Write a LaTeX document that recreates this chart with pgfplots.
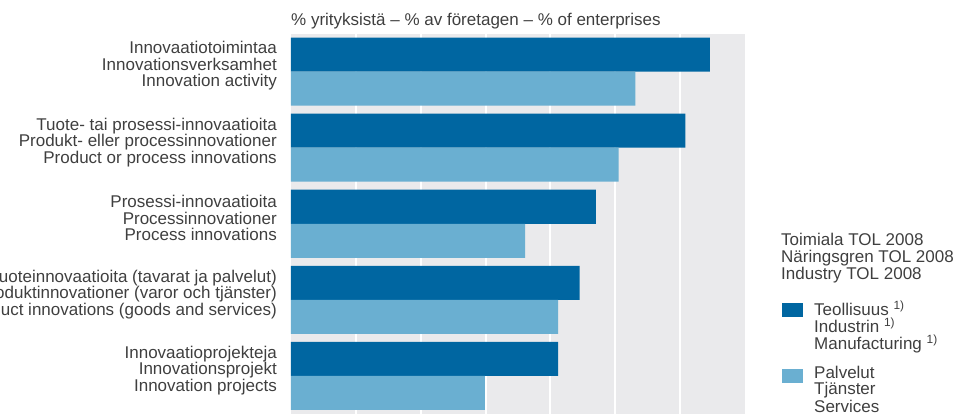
\documentclass[border=0pt]{standalone}
\usepackage{fontspec}
\setmainfont{Liberation Sans}
\usepackage{pgfplots}
\pgfplotsset{compat=1.18}
\definecolor{manuf}{HTML}{0066A1}
\definecolor{serv}{HTML}{6AAFD1}
\definecolor{bg}{HTML}{EAEAEC}
\definecolor{txt}{HTML}{3F3F3F}
\newcommand{\lf}{\fontsize{17}{16.5}\selectfont}
\begin{document}
\begin{tikzpicture}
\begin{axis}[
  scale only axis, width=454pt, height=380.5pt,
  xmin=0, xmax=70, ymin=-0.5, ymax=4.5, y dir=reverse,
  axis background/.style={fill=bg},
  axis line style={draw=none},
  xtick={10,20,...,60}, xticklabels={},
  xmajorgrids, grid style={white, line width=2pt},
  major tick length=0pt,
  ytick={0,1,2,3,4},
  yticklabels={
    {Innovaatiotoimintaa\\Innovationsverksamhet\\Innovation activity},
    {Tuote- tai prosessi-innovaatioita\\Produkt- eller processinnovationer\\Product or process innovations},
    {Prosessi-innovaatioita\\Processinnovationer\\Process innovations},
    {Tuoteinnovaatioita (tavarat ja palvelut)\\Produktinnovationer (varor och tjänster)\\Product innovations (goods and services)},
    {Innovaatioprojekteja\\Innovationsprojekt\\Innovation projects}},
  yticklabel style={align=right, font=\lf, text=txt, inner sep=0pt, xshift=-14pt, yshift=5.5pt},
  xbar, bar width=0.447, bar shift=0pt,
]
\addplot[fill=manuf, draw=none] coordinates {(64.6,-0.2235) (60.8,0.7765) (47.0,1.7765) (44.5,2.7765) (41.2,3.7765)};
\addplot[fill=serv, draw=none] coordinates {(53.1,0.2235) (50.5,1.2235) (36.1,2.2235) (41.2,3.2235) (29.9,4.2235)};
\end{axis}
\begin{scope}[every node/.style={anchor=base west, inner sep=0pt, font=\lf, text=txt}]
\node at (0pt,388pt) {\% yrityksistä – \% av företagen – \% of enterprises};
\node at (490pt,168pt) {Toimiala TOL 2008};
\node at (490pt,151.3pt) {Näringsgren TOL 2008};
\node at (490pt,134.7pt) {Industry TOL 2008};
\fill[manuf] (491pt,97pt) rectangle (512pt,111pt);
\node at (523pt,98pt) {Teollisuus \textsuperscript{1)}};
\node at (523pt,81.3pt) {Industrin \textsuperscript{1)}};
\node at (523pt,64.7pt) {Manufacturing \textsuperscript{1)}};
\fill[serv] (491pt,31pt) rectangle (512pt,45pt);
\node at (523pt,35.7pt) {Palvelut};
\node at (523pt,19pt) {Tjänster};
\node at (523pt,1.3pt) {Services};
\end{scope}
\pgfresetboundingbox
\path (-291pt,-1pt) rectangle (668pt,414pt);
\end{tikzpicture}
\end{document}
